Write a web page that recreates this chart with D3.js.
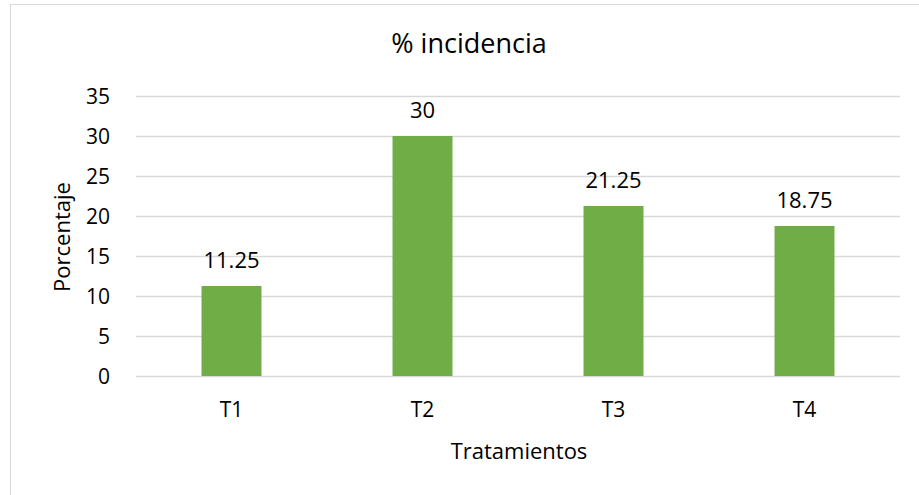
<!DOCTYPE html>
<html>
<head>
<meta charset="utf-8">
<script src="https://cdn.jsdelivr.net/npm/d3@7"></script>
<style>
  body { margin: 0; background: #fff; }
  text { font-family: "Open Sans", sans-serif; fill: #000; }
</style>
</head>
<body>
<div id="canvas"></div>
<script>
// chart data
let categories = ["T1", "T2", "T3", "T4"]
let values = [11.25, 30, 21.25, 18.75]
let yTicks = [0, 5, 10, 15, 20, 25, 30, 35]

let width = 919
let height = 495

let svg = d3.select("#canvas").append("svg")
    .attr("width", width)
    .attr("height", height)

// chart border
svg.append("rect")
    .attr("x", 10.5)
    .attr("y", 4.5)
    .attr("width", 920)
    .attr("height", 500)
    .attr("fill", "none")
    .attr("stroke", "#d9d9d9")

let margin = {left: 136, right: 19, top: 96, bottom: 119}

let x = d3.scaleBand()
    .domain(categories)
    .range([margin.left, width - margin.right])
    .paddingInner(0.686)
    .paddingOuter(0.343)

let y = d3.scaleLinear()
    .domain([0, 35])
    .range([height - margin.bottom, margin.top])

// gridlines
svg.append("g")
    .selectAll("line")
    .data(yTicks)
    .enter()
    .append("line")
        .attr("x1", margin.left)
        .attr("x2", width - margin.right)
        .attr("y1", d => Math.round(y(d)) + 0.5)
        .attr("y2", d => Math.round(y(d)) + 0.5)
        .attr("stroke", "#d9d9d9")
        .attr("stroke-width", 1.3)

// y tick labels
svg.append("g")
    .selectAll("text")
    .data(yTicks)
    .enter()
    .append("text")
        .attr("x", 110)
        .attr("y", d => y(d) + 1)
        .attr("dy", "0.35em")
        .attr("text-anchor", "end")
        .attr("font-size", 21)
        .text(d => d)

// bars
svg.append("g")
    .selectAll("rect")
    .data(values)
    .enter()
    .append("rect")
        .attr("x", (d, i) => x(categories[i]))
        .attr("y", d => y(d))
        .attr("width", x.bandwidth())
        .attr("height", d => y(0) - y(d))
        .attr("fill", "#70ad47")

// value labels
svg.append("g")
    .selectAll("text")
    .data(values)
    .enter()
    .append("text")
        .attr("x", (d, i) => x(categories[i]) + x.bandwidth() / 2)
        .attr("y", d => y(d) - 26)
        .attr("dy", "0.35em")
        .attr("text-anchor", "middle")
        .attr("font-size", 22)
        .text(d => d)

// x tick labels
svg.append("g")
    .selectAll("text")
    .data(categories)
    .enter()
    .append("text")
        .attr("x", d => x(d) + x.bandwidth() / 2)
        .attr("y", 410)
        .attr("dy", "0.35em")
        .attr("text-anchor", "middle")
        .attr("font-size", 21)
        .text(d => d)

// title
svg.append("text")
    .attr("x", 469)
    .attr("y", 44)
    .attr("dy", "0.35em")
    .attr("text-anchor", "middle")
    .attr("font-size", 27)
    .text("% incidencia")

// axis titles
svg.append("text")
    .attr("x", 519)
    .attr("y", 451)
    .attr("dy", "0.35em")
    .attr("text-anchor", "middle")
    .attr("font-size", 22)
    .text("Tratamientos")

svg.append("text")
    .attr("transform", "translate(62,237) rotate(-90)")
    .attr("dy", "0.35em")
    .attr("text-anchor", "middle")
    .attr("font-size", 22)
    .text("Porcentaje")
</script>
</body>
</html>
